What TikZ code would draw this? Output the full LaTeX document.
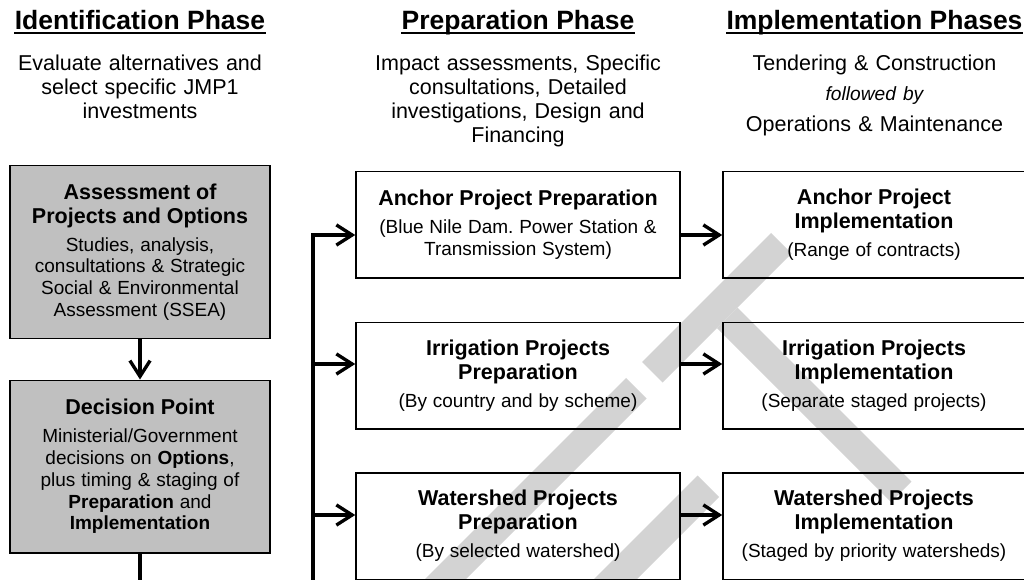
\documentclass[tikz,border=0pt]{standalone}
\usepackage{fontspec}
\setmainfont{Liberation Sans}
\usetikzlibrary{arrows.meta}
\frenchspacing

\definecolor{boxgrey}{RGB}{192,192,192}
\definecolor{draftgrey}{RGB}{211,211,211}
\newcommand{\phasefont}{\fontsize{15.08}{18}\selectfont\bfseries}
\newcommand{\notefont}{\fontsize{12.24}{13.66}\selectfont}
\newcommand{\boxtitle}{\fontsize{12.24}{13.66}\selectfont\bfseries}
\newcommand{\boxbody}{\fontsize{10.81}{12.4}\selectfont}

\tikzset{
	phase/.style={inner sep=0pt, font=\phasefont, anchor=base},
	note/.style={inner sep=0pt, text width=6.4cm, align=center, font=\notefont, anchor=base},
	stage/.style={draw, line width=0.85pt, inner sep=0pt, align=center, minimum height=2.13cm},
	choice/.style={stage, fill=boxgrey, text width=5.0cm, minimum width=5.2cm, minimum height=3.45cm},
	prepbox/.style={stage, text width=6.2cm, minimum width=6.48cm},
	implbox/.style={stage, text width=5.8cm, minimum width=6.04cm},
	flow/.style={line width=1.9pt, -{Straight Barb[length=9pt,width=11.5pt]}}
}

\begin{document}
\begin{tikzpicture}
	\useasboundingbox (0,0) rectangle (20.48,-11.6);
	% DRAFT watermark, cut by the page
	\begin{scope}[rotate=45, draftgrey]
		\fill (3.96,-14.78) rectangle (7.61,-14.20);
		\fill (5.50,-19.70) rectangle (6.08,-14.78);
		\fill (-8.5,-14.78) rectangle (3.51,-14.20);
		\fill (-8.5,-17.20) rectangle (3.14,-16.59);
	\end{scope}
	% phase headings
	\node[phase] (idhead) at (2.8,-0.586) {Identification Phase};
	\node[phase] (prephead) at (10.36,-0.586) {Preparation Phase};
	\node[phase] (imphead) at (17.49,-0.586) {Implementation Phases};
	\draw[line width=0.04cm] ([yshift=-0.074cm]idhead.base west) -- ([yshift=-0.074cm]idhead.base east);
	\draw[line width=0.04cm] ([yshift=-0.074cm]prephead.base west) -- ([yshift=-0.074cm]prephead.base east);
	\draw[line width=0.04cm] ([yshift=-0.074cm]imphead.base west) -- ([yshift=-0.074cm]imphead.base east);
	\node[note] (idnote) at (2.8,-1.40) {Evaluate alternatives and\\select specific JMP1\\investments};
	\node[note] (prepnote) at (10.36,-1.40) {Impact assessments, Specific\\consultations, Detailed\\investigations, Design and\\Financing};
	\node[note] (impnote) at (17.49,-1.40) {Tendering \& Construction\par\vspace{3.6pt}{\fontsize{10.9}{13.66}\selectfont\itshape followed by\par}\vspace{4pt}Operations \& Maintenance};
	% boxes
	\node[choice] (assess) at (2.8,-5.04) {{\boxtitle Assessment of\\Projects and Options\par}\vspace{3.5pt}{\boxbody Studies, analysis,\\consultations \& Strategic\\Social \& Environmental\\Assessment (SSEA)\par}};
	\node[choice] (decide) at (2.8,-9.33) {{\boxtitle Decision Point\par}\vspace{3.5pt}{\boxbody Ministerial/Government\\decisions on \textbf{Options},\\plus timing \& staging of\\\textbf{Preparation} and\\\textbf{Implementation}\par}};
	\node[prepbox] (prep1) at (10.36,-4.49) {{\boxtitle Anchor Project Preparation\par}\vspace{3.5pt}{\boxbody (Blue Nile Dam. Power Station \&\\Transmission System)\par}};
	\node[prepbox] (prep2) at (10.36,-7.51) {{\boxtitle Irrigation Projects\\Preparation\par}\vspace{3.5pt}{\boxbody (By country and by scheme)\par}};
	\node[prepbox] (prep3) at (10.36,-10.52) {{\boxtitle Watershed Projects\\Preparation\par}\vspace{3.5pt}{\boxbody (By selected watershed)\par}};
	\node[implbox] (impl1) at (17.48,-4.49) {{\boxtitle Anchor Project\\Implementation\par}\vspace{3.5pt}{\boxbody (Range of contracts)\par}};
	\node[implbox] (impl2) at (17.48,-7.51) {{\boxtitle Irrigation Projects\\Implementation\par}\vspace{3.5pt}{\boxbody (Separate staged projects)\par}};
	\node[implbox] (impl3) at (17.48,-10.52) {{\boxtitle Watershed Projects\\Implementation\par}\vspace{3.5pt}{\boxbody (Staged by priority watersheds)\par}};
	% connectors
	\coordinate (busfoot) at (2.8,-12.2);
	\coordinate (bustop) at (6.26,-4.70);
	\coordinate (tap2) at (6.26,-7.28);
	\coordinate (tap3) at (6.26,-10.30);
	\draw[flow] (assess) -- (decide);
	\draw[flow] (decide) -- (busfoot) -| (bustop) -- (bustop -| prep1.west);
	\draw[flow] (tap2) -- (tap2 -| prep2.west);
	\draw[flow] (tap3) -- (tap3 -| prep3.west);
	\draw[flow] (bustop -| prep1.east) -- (bustop -| impl1.west);
	\draw[flow] (tap2 -| prep2.east) -- (tap2 -| impl2.west);
	\draw[flow] (tap3 -| prep3.east) -- (tap3 -| impl3.west);
\end{tikzpicture}
\end{document}
